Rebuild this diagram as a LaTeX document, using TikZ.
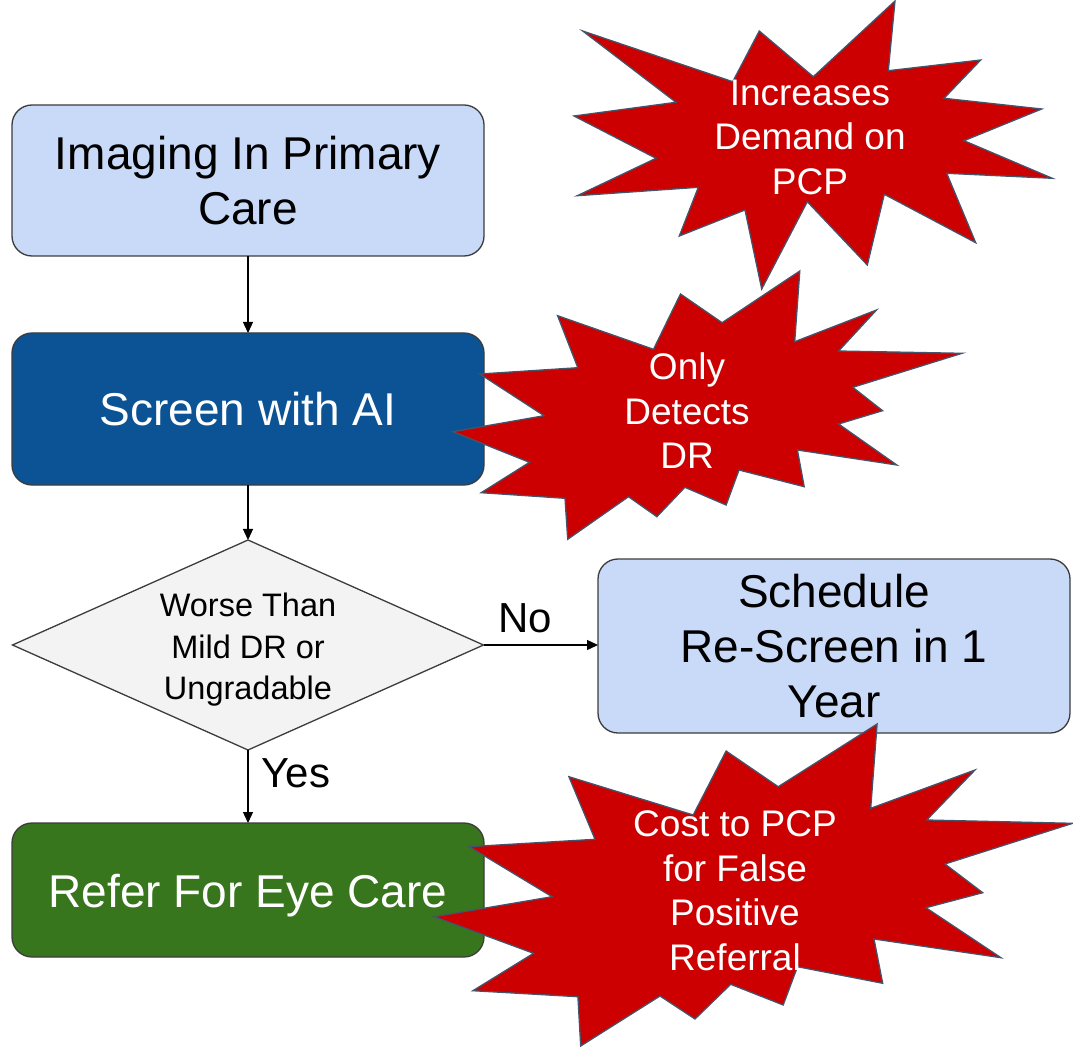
\documentclass[tikz,border=0pt]{standalone}
\usepackage{fontspec}
\setmainfont{Liberation Sans}
\usetikzlibrary{shapes.geometric,arrows.meta}
\definecolor{lightbox}{HTML}{C9DAF8}
\definecolor{aiblue}{HTML}{0B5394}
\definecolor{referg}{HTML}{38761D}
\definecolor{decgray}{HTML}{F3F3F3}
\definecolor{edgegray}{HTML}{3C3C3C}
\definecolor{burstred}{HTML}{CC0000}
\definecolor{burstedge}{HTML}{44546A}
\tikzset{
  flowbox/.style={draw=edgegray, line width=1.3pt, rounded corners=20pt,
    minimum width=472pt, inner sep=0pt, outer sep=0pt, align=center,
    font=\fontsize{46}{55}\selectfont},
  decision/.style={draw=edgegray, line width=1.3pt, fill=decgray, diamond,
    aspect=2.243, minimum width=471pt, minimum height=210pt, inner sep=0pt,
    outer sep=0pt},
  decisiontext/.style={align=center, inner sep=0pt,
    font=\fontsize{32.5}{41.5}\selectfont},
  arr/.style={line width=1.3pt, draw=black,
    -{Triangle[length=11pt,width=10pt]}},
  branchlabel/.style={font=\fontsize{42}{48}\selectfont, inner sep=0pt},
  burst/.style={fill=burstred, draw=burstedge, line width=1.3pt, line join=miter},
  bursttext/.style={text=white, align=center, inner sep=0pt,
    font=\fontsize{37}{44.5}\selectfont},
}
\begin{document}
\begin{tikzpicture}[x=1pt, y=-1pt]
\useasboundingbox[fill=white] (0,0) rectangle (1073,1048);

% main flow
\node[flowbox, fill=lightbox, minimum height=151pt] (img) at (248,180.5)
  {Imaging In Primary\\Care};
\node[flowbox, fill=aiblue, text=white, minimum height=152pt] (ai) at (248,409)
  {Screen with AI};
\node[decision] (dec) at (248,645) {};
\node[decisiontext] (dectext) at (248,650) {Worse Than\\Mild DR or\\Ungradable};
\node[flowbox, fill=lightbox, minimum height=174pt] (resc) at (834,646)
  {Schedule\\Re-Screen in 1\\Year};
\node[flowbox, fill=referg, text=white, minimum height=134pt] (ref) at (248,890)
  {\raisebox{-17pt}[0pt][0pt]{Refer For Eye Care}};

\draw[arr] (img) -- (ai);
\draw[arr] (ai) -- (dec);
\draw[arr] (dec.east) -- (dec.east -| resc.west);
\draw[arr] (dec) -- (ref);
\node[branchlabel] (no) at (525,618) {No};
\node[branchlabel] (yes) at (296,773) {Yes};

% burst: demand on the practice
\draw[burst] (582.7,31) -- (732.7,81.7) -- (759.3,31) -- (813.3,76.7)
  -- (895,1) -- (888.3,70.7) -- (980.7,60) -- (944,98.3) -- (1041.7,109)
  -- (964,140.7) -- (1052.3,178.3) -- (946.7,173.3) -- (975.7,242.7)
  -- (884.3,194.3) -- (867.3,265) -- (807.3,201.7) -- (761.7,289)
  -- (745,210) -- (679.3,236) -- (698.3,187.3) -- (577.3,195.7)
  -- (656,158.3) -- (574,116) -- (676,102.3) -- cycle;
\node[bursttext] (n1) at (810,137) {Increases\\Demand on\\PCP};

% burst: scope of the screening
\draw[burst] (557.6,315.7) -- (653.5,349.3) -- (680.5,294) -- (722.1,322.7)
  -- (799.8,271) -- (794.7,341.7) -- (876.5,310) -- (838.6,351)
  -- (962,353.3) -- (852.8,387.3) -- (882.6,410.7) -- (838.6,424)
  -- (896.8,465) -- (797.4,450) -- (804.2,486.7) -- (739,470)
  -- (726.1,505) -- (684.9,487.3) -- (656.9,516.7) -- (628.5,496.7)
  -- (567.7,539.3) -- (565,498.3) -- (481.2,492.7) -- (529.5,462.3)
  -- (452.8,431.7) -- (544.1,415.7) -- (479.9,374) -- (577.8,367.7) -- cycle;
\node[bursttext] (n2) at (687,411) {Only\\Detects\\DR};

% burst: cost of false referrals
\draw[burst] (568.9,776.7) -- (693.2,815) -- (726.1,751) -- (778.2,786.7)
  -- (877.1,724) -- (870.7,808.3) -- (975,770) -- (926.7,820)
  -- (1072.7,823.3) -- (945,864) -- (982.7,892.7) -- (926,907.7)
  -- (1001,957.7) -- (874,939) -- (882.7,983.3) -- (797.5,966.7)
  -- (783.2,1005) -- (730.7,984.3) -- (695,1019) -- (660,996)
  -- (580.7,1046) -- (577.9,996.7) -- (472.9,990.7) -- (533.6,953.3)
  -- (434.3,916.7) -- (552.1,896.7) -- (469.3,846.7) -- (595,839.3) -- cycle;
\node[bursttext] (n3) at (735,891) {Cost to PCP\\for False\\Positive\\Referral};
\end{tikzpicture}
\end{document}
